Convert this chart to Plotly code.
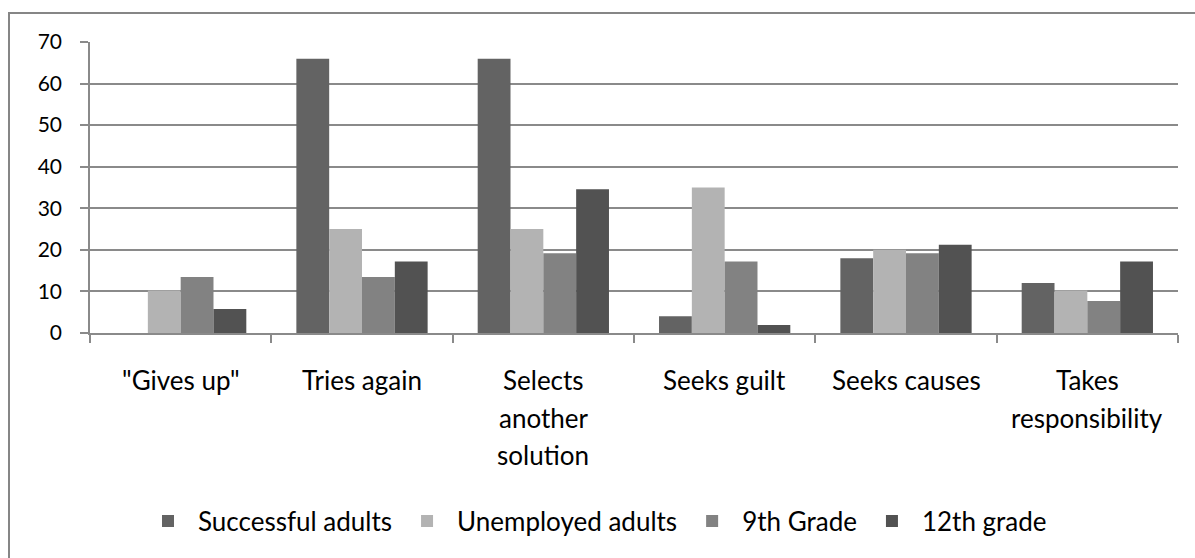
import plotly.graph_objects as go

categories = ['"Gives up"', 'Tries again', 'Selects<br>another<br>solution', 'Seeks guilt', 'Seeks causes', 'Takes<br>responsibility']
series_names = ['Successful adults', 'Unemployed adults', '9th Grade', '12th grade']
successful = [0, 66, 66, 4, 18, 12]
unemployed = [10.2, 25, 25, 35, 20, 10.2]
grade9 = [13.5, 13.5, 19.2, 17.2, 19.2, 7.7]
grade12 = [5.8, 17.2, 34.6, 1.9, 21.2, 17.2]
colors = ['#636363', '#b3b3b3', '#828282', '#525252']
y_ticks = [0, 10, 20, 30, 40, 50, 60, 70]

W, H = 1195, 558
ML, MR, MT, MB = 90, 17, 42, 225
PW, PH = W - ML - MR, H - MT - MB

FONT = 'Lato'
LABEL_SIZE = 26
TICK_SIZE = 21
fig = go.Figure()
for name, vals, c in zip(series_names, [successful, unemployed, grade9, grade12], colors):
    fig.add_trace(go.Bar(x=list(range(len(categories))), y=vals, name=name,
                         marker=dict(color=c, line=dict(width=0))))

fig.update_layout(
    width=W, height=H,
    margin=dict(l=ML, r=MR, t=MT, b=MB, autoexpand=False),
    paper_bgcolor='white', plot_bgcolor='white',
    barmode='group', bargap=0.276, bargroupgap=0,
    font=dict(family=FONT, size=LABEL_SIZE, color='#000000'),
    showlegend=True,
    legend=dict(orientation='h', x=(138 - ML) / PW, xanchor='left',
                y=-(521 - (MT + PH)) / PH, yanchor='middle',
                font=dict(family=FONT, size=LABEL_SIZE, color='#000000'),
                itemwidth=50, traceorder='normal', bgcolor='rgba(0,0,0,0)'),
)
fig.update_xaxes(range=[-0.5, len(categories) - 0.5], showticklabels=False,
                 tickmode='array', tickvals=[i - 0.5 for i in range(len(categories) + 1)],
                 ticks='outside', ticklen=8, tickcolor='#8a8a8a', tickwidth=1.5,
                 showline=True, linecolor='#8a8a8a', linewidth=1.5,
                 showgrid=False, zeroline=False, fixedrange=True)
fig.update_yaxes(range=[0, 70], tickvals=y_ticks, ticks='outside', ticklen=8,
                 tickcolor='#8a8a8a', tickwidth=1.5, ticklabelstandoff=14,
                 showline=True, linecolor='#8a8a8a', linewidth=1.5,
                 showgrid=True, gridcolor='#8a8a8a', gridwidth=1.5,
                 zeroline=False, tickfont=dict(family=FONT, size=TICK_SIZE, color='#000000'))

# category labels (multi-line, Excel-like line spacing)
for i, cat in enumerate(categories):
    for j, line in enumerate(cat.split('<br>')):
        fig.add_annotation(x=i, xref='x', y=0, yref='paper', text=line, showarrow=False,
                           yanchor='middle', xanchor='center', yshift=-(47 + 37.5 * j),
                           font=dict(family=FONT, size=LABEL_SIZE, color='#000000'))

# outer chart border
fig.add_shape(type='rect', xref='paper', yref='paper',
              x0=(9 - ML) / PW, x1=(W + 5 - ML) / PW,
              y0=-(H + 5 - MT - PH) / PH, y1=1 + (MT - 13) / PH,
              line=dict(color='#868686', width=2), fillcolor='rgba(0,0,0,0)', layer='below')

fig.write_html('out.html')
